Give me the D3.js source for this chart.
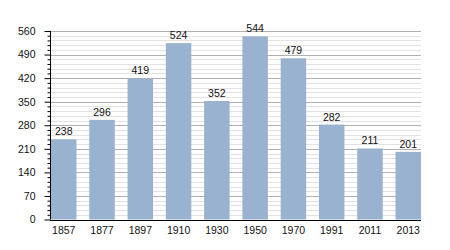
<!DOCTYPE html>
<html>
<head>
<meta charset="utf-8">
<script src="https://cdn.jsdelivr.net/npm/d3@7"></script>
<style>
  body { margin: 0; background: #fff; }
  text { font-family: "Liberation Sans", Arial, sans-serif; }
</style>
</head>
<body>
<div id="chart"></div>
<script>
// years and population
const years = ["1857", "1877", "1897", "1910", "1930", "1950", "1970", "1991", "2011", "2013"];
const population = [238, 296, 419, 524, 352, 544, 479, 282, 211, 201];
const yTicks = [0, 70, 140, 210, 280, 350, 420, 490, 560];

var width = 450, height = 250;
var plotLeft = 50, plotRight = 421, plotTop = 31, plotBottom = 219.5;

var svg = d3.select("#chart")
  .append("svg")
    .attr("width", width)
    .attr("height", height);

var x = d3.scaleBand()
  .domain(years)
  .range([plotLeft + 1, plotRight])
  .paddingInner(0.334)
  .paddingOuter(0);

var y = d3.scaleLinear()
  .domain([0, 560])
  .range([plotBottom, plotTop]);

// minor grid every 14
var minor = d3.range(14, 560, 14).filter(function(v) { return v % 70 != 0; });
svg.append("g").selectAll("line")
  .data(minor)
  .enter().append("line")
    .attr("x1", plotLeft).attr("x2", plotRight)
    .attr("y1", function(d) { return Math.round(y(d)) + 0.5; })
    .attr("y2", function(d) { return Math.round(y(d)) + 0.5; })
    .attr("stroke", "#e2e2e2");

// major grid
svg.append("g").selectAll("line")
  .data(yTicks.slice(1))
  .enter().append("line")
    .attr("x1", plotLeft).attr("x2", plotRight)
    .attr("y1", function(d) { return Math.round(y(d)) + 0.5; })
    .attr("y2", function(d) { return Math.round(y(d)) + 0.5; })
    .attr("stroke", "#b0b0b0");

// bars
svg.append("g").selectAll("rect")
  .data(population)
  .enter().append("rect")
    .attr("x", function(d, i) { return x(years[i]); })
    .attr("y", function(d) { return y(d); })
    .attr("width", x.bandwidth())
    .attr("height", function(d) { return y(0) - y(d); })
    .attr("fill", "#98b2cf");

// value labels
svg.append("g").selectAll("text")
  .data(population)
  .enter().append("text")
    .attr("x", function(d, i) { return x(years[i]) + x.bandwidth() / 2; })
    .attr("y", function(d) { return y(d) - 4; })
    .attr("text-anchor", "middle")
    .attr("font-size", "10.5px")
    .attr("fill", "#111")
    .text(function(d) { return d; });

// y axis
var yAxis = svg.append("g")
  .attr("transform", "translate(" + (plotLeft + 0.5) + ",0)")
  .call(d3.axisLeft(y).tickValues(yTicks).tickSize(6).tickPadding(9));
yAxis.selectAll("text").attr("font-size", "10.5px").attr("fill", "#111").style("font-family", "Liberation Sans, Arial, sans-serif");
yAxis.select(".domain").attr("d", "M0," + plotTop + "V" + plotBottom);

svg.append("g")
  .attr("transform", "translate(" + (plotLeft + 0.5) + ",0)")
  .call(d3.axisLeft(y).tickValues(minor).tickSize(3).tickFormat(""))
  .select(".domain").remove();

// x axis
var xAxis = svg.append("g")
  .attr("transform", "translate(0," + (Math.round(plotBottom) + 0.5) + ")")
  .call(d3.axisBottom(x).tickSize(0).tickPadding(6));
xAxis.selectAll("text").attr("font-size", "10.5px").attr("fill", "#111").style("font-family", "Liberation Sans, Arial, sans-serif");
xAxis.select(".domain").attr("d", "M" + plotLeft + ",0H" + plotRight);
</script>
</body>
</html>
